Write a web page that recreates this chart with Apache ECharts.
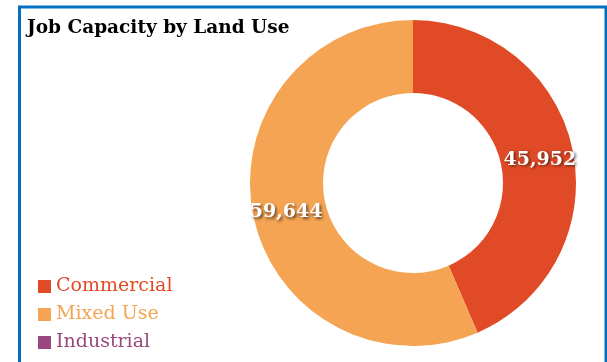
<!DOCTYPE html>
<html><head><meta charset="utf-8">
<script src="https://cdn.jsdelivr.net/npm/echarts@6/dist/echarts.min.js"></script>
<style>html,body{margin:0;padding:0;background:#fff}#c{width:607px;height:362px}</style>
</head><body><div id="c"></div>
<script>
var categories = ["Commercial", "Mixed Use", "Industrial"];
var values = [45952, 59644, 0];
var colors = ["#E14A27", "#F4A453", "#98487E"];
var title = "Job Capacity by Land Use";

var chart = echarts.init(document.getElementById('c'), null, {renderer: 'canvas'});
var serif = "'DejaVu Serif', serif";
chart.setOption({
  animation: false,
  title: {text: title, left: 22, top: 14, textStyle: {fontFamily: serif, fontWeight: 'bold', fontSize: 18.5, color: '#000'}},
  graphic: [{type: 'rect', shape: {x: 19.5, y: 7, width: 586.5, height: 400}, style: {fill: 'none', stroke: '#0070C0', lineWidth: 3}, silent: true}],
  legend: {
    orient: 'vertical', left: 33, top: 272, itemWidth: 13, itemHeight: 13, itemGap: 9, icon: 'rect',
    textStyle: {fontFamily: serif, fontSize: 19},
    data: categories.map(function (c, i) { return {name: c, textStyle: {color: colors[i]}}; })
  },
  series: [{
    type: 'pie', center: [413, 183], radius: [90, 163], startAngle: 90, clockwise: true,
    color: colors, avoidLabelOverlap: false,
    label: {position: 'inside', formatter: function (p) { return p.value ? p.value.toLocaleString('en-US') : ''; },
      color: '#fff', fontFamily: serif, fontWeight: 'bold', fontSize: 19, offset: [0, 3],
      textShadowColor: 'rgba(0,0,0,0.6)', textShadowBlur: 3, textShadowOffsetX: 1.5, textShadowOffsetY: 1.5},
    labelLine: {show: false},
    itemStyle: {borderColor: '#fff', borderWidth: 0},
    data: categories.map(function (c, i) { return {name: c, value: values[i]}; })
  }]
});
</script></body></html>
